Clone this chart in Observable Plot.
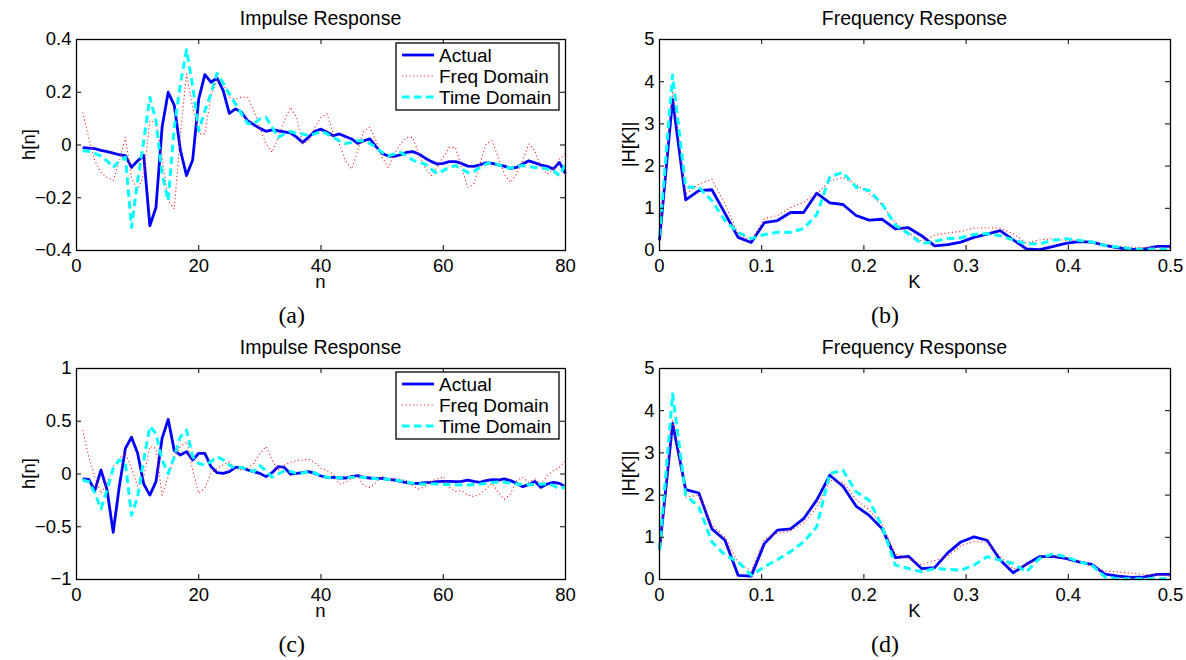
<!DOCTYPE html>
<html><head><meta charset="utf-8">
<script src="https://cdn.jsdelivr.net/npm/d3@7"></script>
<script src="https://cdn.jsdelivr.net/npm/@observablehq/plot@0.6"></script>
<style>
html,body{margin:0;padding:0;background:#fff;}
#wrap{position:relative;width:1186px;height:660px;overflow:hidden;background:#fff;}
#wrap svg{position:absolute;}
</style></head><body><div id="wrap"></div>
<script>
// ---------- data ----------
const n = d3.range(1, 81);                 // sample index n = 1..80
const K = d3.range(0, 40).map(k => k / 78); // normalized frequency bins

const aActual = [-0.01,-0.012,-0.014,-0.02,-0.025,-0.031,-0.037,-0.04,-0.085,-0.06,
  -0.04,-0.306,-0.237,0.067,0.2,0.15,-0.02,-0.116,-0.057,0.175,
  0.267,0.238,0.254,0.206,0.12,0.137,0.124,0.092,0.077,0.063,
  0.052,0.057,0.054,0.05,0.046,0.03,0.01,0.03,0.052,0.06,
  0.048,0.035,0.042,0.032,0.023,0.006,0.016,0.023,-0.006,-0.032,
  -0.042,-0.043,-0.037,-0.028,-0.025,-0.034,-0.049,-0.062,-0.072,-0.07,
  -0.063,-0.063,-0.07,-0.08,-0.081,-0.075,-0.068,-0.07,-0.075,-0.08,
  -0.089,-0.085,-0.072,-0.06,-0.068,-0.076,-0.081,-0.091,-0.066,-0.108];
const aFreq = [0.124,0.029,-0.06,-0.104,-0.123,-0.135,-0.06,0.029,-0.123,-0.173,
  -0.11,0.092,0.086,-0.047,-0.211,-0.243,0.042,0.27,0.143,0.042,
  0.042,0.187,0.244,0.232,0.181,0.175,0.181,0.181,0.13,0.067,
  0.004,-0.028,0.029,0.092,0.143,0.105,0.004,0.016,0.067,0.105,
  0.118,0.042,0.004,-0.06,-0.091,-0.022,0.054,0.067,0.016,-0.047,
  -0.085,-0.034,0.004,0.029,0.029,-0.034,-0.085,-0.116,-0.085,-0.047,
  -0.009,-0.009,-0.085,-0.161,-0.148,-0.072,0.004,0.016,-0.047,-0.11,
  -0.142,-0.11,-0.06,0.004,-0.022,-0.085,-0.11,-0.091,-0.053,-0.034];
const aTime = [-0.022,-0.024,-0.032,-0.042,-0.06,-0.085,-0.06,-0.047,-0.313,-0.135,
  0.016,0.181,0.092,-0.11,-0.211,0.067,0.232,0.361,0.225,0.054,
  0.13,0.194,0.272,0.234,0.194,0.156,0.118,0.082,0.08,0.099,
  0.105,0.067,0.029,0.042,0.051,0.044,0.042,0.035,0.042,0.052,
  0.042,0.029,0.016,0.006,0.01,0.016,0.016,0.006,-0.009,-0.028,
  -0.041,-0.034,-0.028,-0.041,-0.057,-0.066,-0.072,-0.091,-0.108,-0.097,
  -0.085,-0.078,-0.091,-0.104,-0.1,-0.085,-0.072,-0.066,-0.075,-0.085,
  -0.087,-0.082,-0.078,-0.082,-0.085,-0.085,-0.091,-0.097,-0.116,-0.072];

const bActual = [0.24,3.58,1.2,1.42,1.44,0.88,0.31,0.19,0.66,0.71,
  0.9,0.9,1.36,1.13,1.09,0.83,0.72,0.74,0.51,0.54,
  0.35,0.11,0.14,0.2,0.31,0.39,0.47,0.25,0.04,0.02,
  0.09,0.17,0.21,0.2,0.12,0.06,0.02,0.04,0.1,0.1];
const bFreq = [0.4,3.74,1.34,1.57,1.69,1.1,0.39,0.24,0.75,0.83,
  1.02,1.14,1.34,1.65,1.73,1.57,1.34,1.08,0.65,0.42,
  0.22,0.36,0.42,0.45,0.53,0.54,0.53,0.4,0.18,0.25,
  0.28,0.24,0.24,0.18,0.14,0.1,0.08,0.07,0.07,0.06];
const bTime = [0.35,4.16,1.5,1.5,1.18,0.71,0.43,0.28,0.38,0.43,
  0.43,0.52,0.85,1.75,1.85,1.5,1.42,1.1,0.6,0.4,
  0.16,0.22,0.28,0.3,0.38,0.4,0.35,0.25,0.16,0.16,
  0.24,0.28,0.24,0.2,0.12,0.08,0.04,0.03,0.04,0.02];

const cActual = [-0.047,-0.05,-0.158,0.038,-0.15,-0.553,-0.12,0.243,0.348,0.196,
  -0.095,-0.2,-0.073,0.338,0.518,0.221,0.18,0.212,0.133,0.196,
  0.196,0.07,0.013,0.006,0.022,0.063,0.063,0.038,0.022,0.006,
  -0.025,0.013,0.07,0.063,0.0,0.006,0.013,0.022,0.006,-0.019,
  -0.032,-0.032,-0.038,-0.038,-0.025,-0.016,-0.032,-0.038,-0.041,-0.041,
  -0.051,-0.057,-0.07,-0.082,-0.089,-0.089,-0.082,-0.079,-0.073,-0.07,
  -0.07,-0.073,-0.07,-0.057,-0.07,-0.079,-0.063,-0.054,-0.057,-0.047,
  -0.063,-0.089,-0.12,-0.101,-0.07,-0.127,-0.095,-0.079,-0.089,-0.12];
const cFreq = [0.417,0.164,-0.025,-0.183,-0.088,0.07,0.15,0.196,0.054,-0.12,
  -0.025,0.26,0.243,-0.2,-0.025,0.164,0.26,0.306,0.038,-0.183,
  -0.136,0.006,0.054,0.085,0.117,0.054,0.038,0.054,0.1,0.196,
  0.26,0.133,0.038,0.085,0.11,0.126,0.133,0.14,0.11,0.054,
  0.03,0.0,-0.095,-0.079,-0.047,-0.016,-0.11,-0.127,-0.079,-0.016,
  -0.063,-0.038,-0.051,-0.063,-0.111,-0.142,-0.12,-0.07,-0.047,-0.025,
  -0.127,-0.165,-0.158,-0.2,-0.215,-0.19,-0.142,-0.089,-0.174,-0.24,
  -0.19,-0.063,-0.032,-0.079,-0.047,-0.095,-0.016,0.032,0.063,0.127];
const cTime = [-0.057,-0.073,-0.18,-0.33,-0.15,0.054,0.133,0.1,-0.39,-0.215,
  0.133,0.45,0.385,0.133,0.006,0.164,0.354,0.417,0.164,0.1,
  0.085,0.117,0.164,0.133,0.085,0.054,0.063,0.044,0.022,0.08,
  0.03,-0.03,0.0,0.03,0.025,0.006,0.01,0.02,0.01,-0.02,
  -0.03,-0.035,-0.035,-0.038,-0.032,-0.028,-0.032,-0.04,-0.045,-0.048,
  -0.05,-0.058,-0.065,-0.075,-0.088,-0.095,-0.095,-0.092,-0.095,-0.1,
  -0.1,-0.102,-0.105,-0.105,-0.1,-0.098,-0.088,-0.08,-0.075,-0.078,
  -0.085,-0.095,-0.1,-0.102,-0.1,-0.095,-0.095,-0.108,-0.142,-0.12];

const dActual = [0.7,3.7,2.13,2.05,1.2,0.93,0.1,0.08,0.85,1.17,
  1.2,1.44,1.88,2.47,2.21,1.74,1.52,1.2,0.52,0.55,
  0.26,0.28,0.63,0.89,1.01,0.93,0.46,0.16,0.36,0.54,
  0.55,0.5,0.42,0.36,0.13,0.08,0.05,0.06,0.12,0.12];
const dFreq = [0.6,3.8,1.95,2.0,1.3,1.0,0.4,0.2,0.95,1.1,
  1.15,1.35,1.7,2.35,2.3,1.9,1.65,1.3,0.6,0.5,
  0.35,0.45,0.55,0.8,0.9,0.88,0.55,0.25,0.35,0.5,
  0.55,0.52,0.45,0.3,0.2,0.18,0.15,0.12,0.1,0.08];
const dTime = [0.7,4.4,2.0,1.72,0.89,0.58,0.42,0.1,0.3,0.47,
  0.66,0.89,1.25,2.51,2.59,2.08,1.88,1.25,0.34,0.26,
  0.18,0.26,0.24,0.22,0.34,0.54,0.46,0.38,0.18,0.5,
  0.6,0.54,0.42,0.34,0.06,0.02,0.02,0.02,0.02,0.02];

const impulseXTicks = [0, 20, 40, 60, 80];
const aYTicks = [-0.4, -0.2, 0, 0.2, 0.4];
const cYTicks = [-1, -0.5, 0, 0.5, 1];
const freqXTicks = [0, 0.1, 0.2, 0.3, 0.4, 0.5];
const freqYTicks = [0, 1, 2, 3, 4, 5];
const seriesNames = ["Actual", "Freq Domain", "Time Domain"];
const titleImpulse = "Impulse Response";
const titleFreq = "Frequency Response";
const captions = ["(a)", "(b)", "(c)", "(d)"];

// ---------- styles ----------
const FONT = "'Liberation Sans', Arial, Helvetica, sans-serif";
const FS = 18.5;
const lineStyle = {
  "Actual":      {stroke: "#0000ff", strokeWidth: 2.8, strokeLinecap: "butt"},
  "Freq Domain": {stroke: "#ff2020", strokeWidth: 1.1, strokeDasharray: "1.1,2.6", strokeLinecap: "butt"},
  "Time Domain": {stroke: "#00ffff", strokeWidth: 3, strokeDasharray: "7.5,4.5", strokeLinecap: "butt"}
};
const fmt = d => (d < 0 ? "\u2212" : "") + String(Math.abs(d));

const wrap = document.getElementById("wrap");

function panel(cfg) {
  const H = 290, mT = 39, mB = 40;
  const plotH = H - mT - mB, plotW = cfg.width - cfg.mL - cfg.mR;
  const tl = 5;
  const marks = [];
  cfg.series.forEach((vals, si) => {
    const name = seriesNames[si];
    const data = cfg.x.map((xv, i) => ({x: xv, y: vals[i]}));
    marks.push(Plot.line(data, {x: "x", y: "y", ...lineStyle[name], strokeLinejoin: "round"}));
  });
  marks.push(Plot.tickX(cfg.xTicks, {x: d => d, insetTop: plotH - tl, stroke: "#000", strokeWidth: 1}));
  marks.push(Plot.tickX(cfg.xTicks, {x: d => d, insetBottom: plotH - tl, stroke: "#000", strokeWidth: 1}));
  marks.push(Plot.tickY(cfg.yTicks, {y: d => d, insetRight: plotW - tl, stroke: "#000", strokeWidth: 1}));
  marks.push(Plot.tickY(cfg.yTicks, {y: d => d, insetLeft: plotW - tl, stroke: "#000", strokeWidth: 1}));
  marks.push(Plot.frame({stroke: "#000", strokeWidth: 1.3}));
  const svg = Plot.plot({
    width: cfg.width, height: H,
    marginLeft: cfg.mL, marginRight: cfg.mR, marginTop: mT, marginBottom: mB,
    x: {domain: cfg.xDomain, ticks: cfg.xTicks, tickSize: 0, tickPadding: 8, tickFormat: fmt, label: null},
    y: {domain: cfg.yDomain, ticks: cfg.yTicks, tickSize: 0, tickPadding: 5, tickFormat: fmt, label: null},
    style: {fontFamily: FONT, fontSize: FS + "px", color: "#000", background: "transparent", overflow: "visible"},
    marks
  });
  svg.style.left = cfg.left + "px";
  svg.style.top = cfg.top + "px";
  wrap.appendChild(svg);
}

panel({left: 0, top: 0, width: 583, mL: 76, mR: 18, x: n, xDomain: [0, 80], yDomain: [-0.4, 0.4],
  xTicks: impulseXTicks, yTicks: aYTicks, series: [aActual, aFreq, aTime]});
panel({left: 583, top: 0, width: 603, mL: 76, mR: 16, x: K, xDomain: [0, 0.5], yDomain: [0, 5],
  xTicks: freqXTicks, yTicks: freqYTicks, series: [bActual, bFreq, bTime]});
panel({left: 0, top: 329, width: 583, mL: 76, mR: 18, x: n, xDomain: [0, 80], yDomain: [-1, 1],
  xTicks: impulseXTicks, yTicks: cYTicks, series: [cActual, cFreq, cTime]});
panel({left: 583, top: 329, width: 603, mL: 76, mR: 16, x: K, xDomain: [0, 0.5], yDomain: [0, 5],
  xTicks: freqXTicks, yTicks: freqYTicks, series: [dActual, dFreq, dTime]});

// ---------- overlay: titles, axis labels, captions, legends ----------
const ov = d3.select(wrap).append("svg")
  .attr("width", 1186).attr("height", 660)
  .style("left", "0px").style("top", "0px")
  .style("font-family", FONT).style("font-size", FS + "px");

const SERIF = "'Liberation Serif', 'Times New Roman', serif";
const rowOff = [0, 329];
rowOff.forEach((dy, r) => {
  ov.append("text").attr("x", 320.5).attr("y", 24.5 + dy).attr("text-anchor", "middle").style("font-size", "19.5px").text(titleImpulse);
  ov.append("text").attr("x", 914.5).attr("y", 24.5 + dy).attr("text-anchor", "middle").style("font-size", "19.5px").text(titleFreq);
  ov.append("text").attr("x", 320.5).attr("y", 288 + dy).attr("text-anchor", "middle").text("n");
  ov.append("text").attr("x", 914.5).attr("y", 288 + dy).attr("text-anchor", "middle").text("K");
  ov.append("text").attr("transform", `translate(35,${144.5 + dy}) rotate(-90)`).attr("text-anchor", "middle").text("h[n]");
  ov.append("text").attr("transform", `translate(635,${144.5 + dy}) rotate(-90)`).attr("text-anchor", "middle").text("|H[K]|");
  ov.append("text").attr("x", 291.7).attr("y", 323 + dy).attr("text-anchor", "middle")
    .style("font-family", SERIF).style("font-size", "24px").text(captions[r * 2]);
  ov.append("text").attr("x", 885).attr("y", 323 + dy).attr("text-anchor", "middle")
    .style("font-family", SERIF).style("font-size", "24px").text(captions[r * 2 + 1]);

  // legend
  const g = ov.append("g").attr("transform", `translate(0,${dy})`);
  g.append("rect").attr("x", 396).attr("y", 43).attr("width", 163).attr("height", 67)
    .attr("fill", "#fff").attr("stroke", "#000").attr("stroke-width", 1.3);
  seriesNames.forEach((name, i) => {
    const s = lineStyle[name];
    const ly = 55 + i * 21;
    g.append("line").attr("x1", 402).attr("x2", 434).attr("y1", ly).attr("y2", ly)
      .attr("stroke", s.stroke).attr("stroke-width", s.strokeWidth)
      .attr("stroke-dasharray", s.strokeDasharray || null).attr("stroke-linecap", "butt");
    g.append("text").attr("x", 439).attr("y", ly + 6.7).style("font-size", "19px").text(name);
  });
});
</script>
</body></html>
